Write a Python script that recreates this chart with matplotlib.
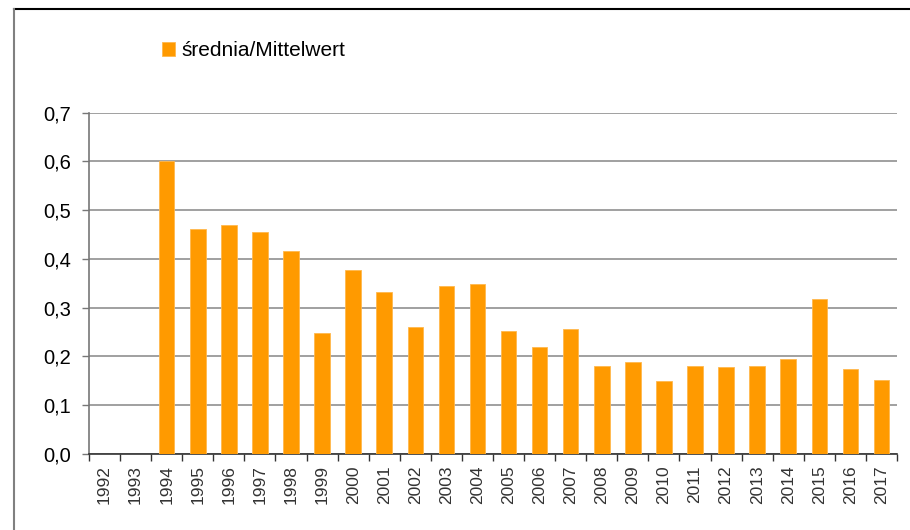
import numpy as np
import matplotlib
matplotlib.use("Agg")
import matplotlib.pyplot as plt
from matplotlib.lines import Line2D
from matplotlib.ticker import FuncFormatter, FixedLocator

plt.rcParams['font.family'] = ['Liberation Sans', 'DejaVu Sans']

years = [str(y) for y in range(1992, 2018)]
values = [np.nan, np.nan, 0.600, 0.461, 0.470, 0.455, 0.417, 0.248, 0.377, 0.333,
          0.261, 0.345, 0.349, 0.253, 0.220, 0.257, 0.181, 0.189, 0.149, 0.181,
          0.179, 0.181, 0.195, 0.318, 0.175, 0.152]
series_label = "średnia/Mittelwert"
yticks = [0.0, 0.1, 0.2, 0.3, 0.4, 0.5, 0.6, 0.7]

fig = plt.figure(figsize=(9.1, 5.3), dpi=100)
ax = fig.add_axes([89/910, 1-454/530, (897-89)/910, (454-112.7)/530])

x = np.arange(len(years))
bars = ax.bar(x, values, width=0.5, color='#FF9A00', edgecolor='#FFB84D',
              linewidth=0.6, label=series_label, zorder=3)

ax.set_xlim(-0.5, len(years) - 0.5)
ax.set_ylim(0, 0.7)
ax.set_yticks(yticks)
ax.yaxis.set_major_formatter(FuncFormatter(lambda v, p: f"{v:.1f}".replace('.', ',')))
ax.grid(axis='y', color='#999999', linewidth=1.3, zorder=0)

ax.set_xticks(x)
ax.set_xticklabels(years, rotation=90, fontsize=12.5, color='#333333')
ax.xaxis.set_minor_locator(FixedLocator(np.arange(-0.5, len(years), 1.0)))
ax.tick_params(axis='x', which='major', length=0, pad=8)
ax.tick_params(axis='x', which='minor', length=5, width=1, color='#333333')
ax.tick_params(axis='y', length=5, width=1, color='#777777', labelsize=14.5, pad=8)

for s in ['top', 'right']:
    ax.spines[s].set_visible(False)
ax.spines['left'].set_color('#777777')
ax.spines['left'].set_linewidth(1.2)
ax.spines['bottom'].set_color('#333333')
ax.spines['bottom'].set_linewidth(1.2)

leg = fig.legend(handles=[bars], labels=[series_label], loc='upper left',
                 bbox_to_anchor=(154/910, 1-33/530), frameon=False,
                 fontsize=15, handlelength=0.6, handleheight=0.6,
                 handletextpad=0.3, borderaxespad=0)

fig.add_artist(Line2D([14/910, 1.0], [1-9/530, 1-9/530], color='black',
                      linewidth=1.5, transform=fig.transFigure))
fig.add_artist(Line2D([14/910, 14/910], [0, 1-9/530], color='#808080',
                      linewidth=1.5, transform=fig.transFigure))

fig.savefig('out.png', dpi=100)
